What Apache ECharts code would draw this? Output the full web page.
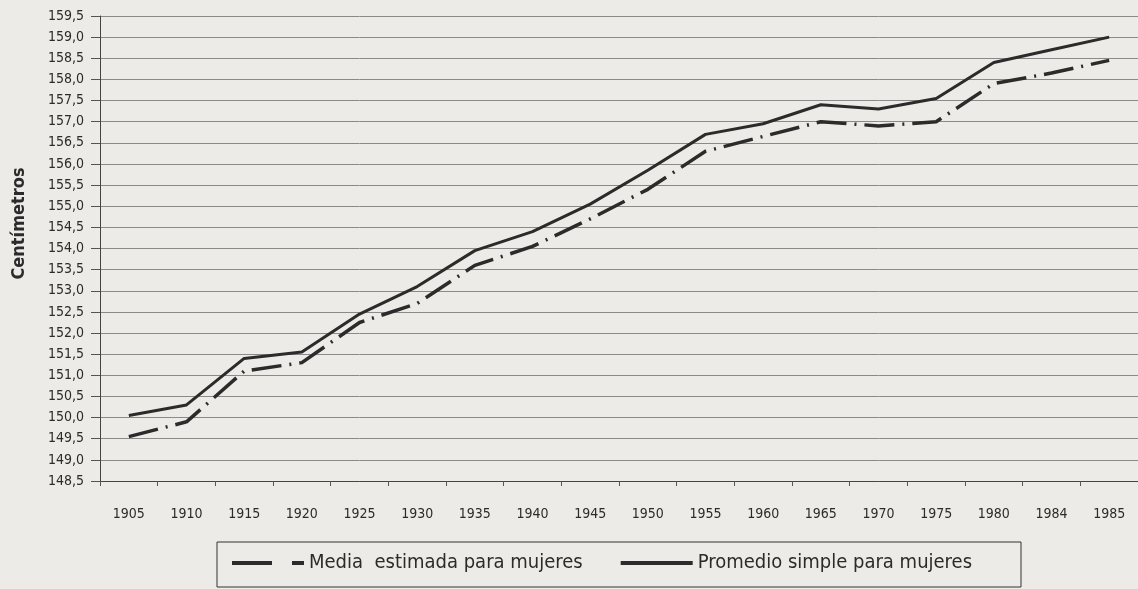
<!DOCTYPE html>
<html>
<head>
<meta charset="utf-8">
<script src="https://cdn.jsdelivr.net/npm/echarts@6/dist/echarts.min.js"></script>
<style>
  html, body { margin: 0; padding: 0; background: #ecebe7; }
  #chart { width: 1138px; height: 589px; }
</style>
</head>
<body>
<div id="chart"></div>
<script>
const years = ['1905', '1910', '1915', '1920', '1925', '1930', '1935', '1940', '1945',
  '1950', '1955', '1960', '1965', '1970', '1975', '1980', '1984', '1985']
// Media estimada para mujeres (línea discontinua)
const mediaEstimada = [149.55, 149.9, 151.1, 151.3, 152.25, 152.7, 153.6, 154.05, 154.7,
  155.4, 156.3, 156.65, 157.0, 156.9, 157.0, 157.9, 158.15, 158.45]
// Promedio simple para mujeres (línea continua)
const promedioSimple = [150.05, 150.3, 151.4, 151.55, 152.45, 153.1, 153.95, 154.4, 155.05,
  155.85, 156.7, 156.95, 157.4, 157.3, 157.55, 158.4, 158.7, 159.0]
const yMin = 148.5
const yMax = 159.5
const yStep = 0.5

const fontNarrow = '"Liberation Sans Narrow", "DejaVu Sans Condensed", sans-serif'
const ink = '#2b2b2b'

const chart = echarts.init(document.getElementById('chart'))
const option = {
  backgroundColor: '#ecebe7',
  animation: false,
  grid: {
    left: 100,
    right: 0,
    top: 16,
    bottom: 108
  },
  legend: {
    left: 217,
    top: 542,
    padding: [11, 49, 14, 13],
    borderColor: '#333',
    borderWidth: 1,
    itemWidth: 72,
    itemHeight: 14,
    itemGap: 36,
    itemStyle: { opacity: 0 },
    textStyle: {
      fontFamily: fontNarrow,
      fontSize: 20,
      color: ink
    },
    data: [
      {
        name: 'Media  estimada para mujeres',
        lineStyle: { type: [40, 20, 12], width: 4 }
      },
      {
        name: 'Promedio simple para mujeres',
        lineStyle: { width: 4 }
      }
    ]
  },
  xAxis: {
    type: 'category',
    data: years,
    boundaryGap: true,
    axisLine: { lineStyle: { color: '#444', width: 1 } },
    axisTick: { show: true, length: 5, lineStyle: { color: '#555' } },
    axisLabel: {
      margin: 26,
      fontFamily: fontNarrow,
      fontSize: 14,
      color: ink
    },
    splitLine: { show: false }
  },
  yAxis: {
    type: 'value',
    min: yMin,
    max: yMax,
    interval: yStep,
    name: 'Centímetros',
    nameLocation: 'middle',
    nameGap: 72,
    nameTextStyle: {
      fontFamily: fontNarrow,
      fontSize: 18,
      fontWeight: 'bold',
      color: ink,
      padding: [0, 0, 0, 50]
    },
    axisLine: { show: true, lineStyle: { color: '#444', width: 1 } },
    axisTick: { show: true, length: 9, lineStyle: { color: '#555' } },
    axisLabel: {
      margin: 16,
      fontFamily: fontNarrow,
      fontSize: 14,
      color: ink,
      formatter: v => v.toFixed(1).replace('.', ',')
    },
    splitLine: { show: true, lineStyle: { color: '#8a8a88', width: 1 } }
  },
  series: [
    {
      name: 'Media  estimada para mujeres',
      type: 'line',
      data: mediaEstimada,
      symbol: 'none',
      lineStyle: { color: ink, width: 3.5, type: [30, 8, 2, 8] },
      itemStyle: { color: ink }
    },
    {
      name: 'Promedio simple para mujeres',
      type: 'line',
      data: promedioSimple,
      symbol: 'none',
      lineStyle: { color: ink, width: 3 },
      itemStyle: { color: ink }
    }
  ]
}
chart.setOption(option)
</script>
</body>
</html>
